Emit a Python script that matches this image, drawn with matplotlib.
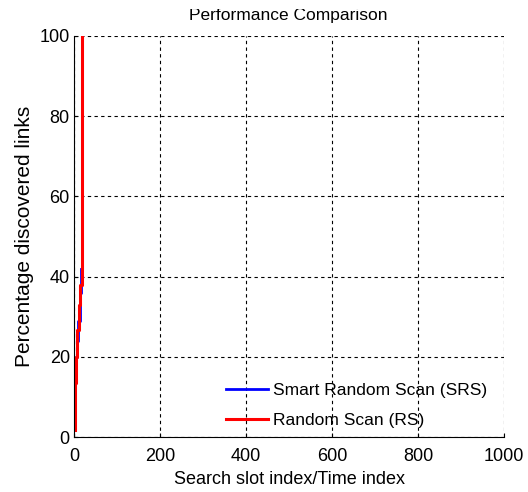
import matplotlib
matplotlib.use("Agg")
import matplotlib.pyplot as plt
from matplotlib.patches import Rectangle

plt.rcParams['font.family'] = ['Liberation Sans', 'DejaVu Sans']

# step data (slot index, percentage discovered)
srs_x = [0.3, 0.3, 4, 4, 6, 6, 9, 9, 13, 13, 15.6, 15.6]
srs_y = [8.5, 16, 16, 20, 20, 24, 24, 29, 29, 36, 36, 42]
rs_x = [1.5, 1.5, 5, 5, 7.6, 7.6, 11.6, 11.6, 14.6, 14.6, 18.6, 18.6]
rs_y = [1.7, 13.5, 13.5, 20, 20, 26.7, 26.7, 33, 33, 38, 38, 100]

xticks = [0, 200, 400, 600, 800, 1000]
yticks = [0, 20, 40, 60, 80, 100]

fig = plt.figure(figsize=(5.28, 4.92), dpi=100)
ax = fig.add_axes([74/528, 55/492, 430/528, 401/492])

ax.plot(srs_x, srs_y, color='blue', lw=2, label='Smart Random Scan (SRS)')
ax.plot(rs_x, rs_y, color='red', lw=2.2, label='Random Scan (RS)')

ax.set_xlim(0, 1000)
ax.set_ylim(0, 100)
ax.set_xticks(xticks)
ax.set_yticks(yticks)
ax.tick_params(direction='in', length=3, labelsize=13, pad=3)
ax.tick_params(axis='x', pad=8)
ax.grid(True, color='black', linestyle=(0, (3, 3)), lw=0.8)
ax.spines['right'].set_visible(False)
ax.spines['top'].set_visible(False)

ax.set_xlabel('Search slot index/Time index', fontsize=13, labelpad=4)
ax.set_ylabel('Percentage discovered links', fontsize=15, labelpad=4)
fig.text(0.546, 1 - 20/492, 'Performance Comparison', fontsize=12.5,
         ha='center', va='baseline')
# title is clipped at the top in the original
fig.patches.append(Rectangle((0, 1 - 9/492), 1, 9/492, transform=fig.transFigure,
                             facecolor='white', edgecolor='none', zorder=10))

ax.legend(loc='lower right', bbox_to_anchor=(0.977, 0.005), frameon=False,
          fontsize=12.5, handlelength=2.4, borderaxespad=0,
          handletextpad=0.3, labelspacing=0.85)

fig.savefig('out.png', dpi=100)
